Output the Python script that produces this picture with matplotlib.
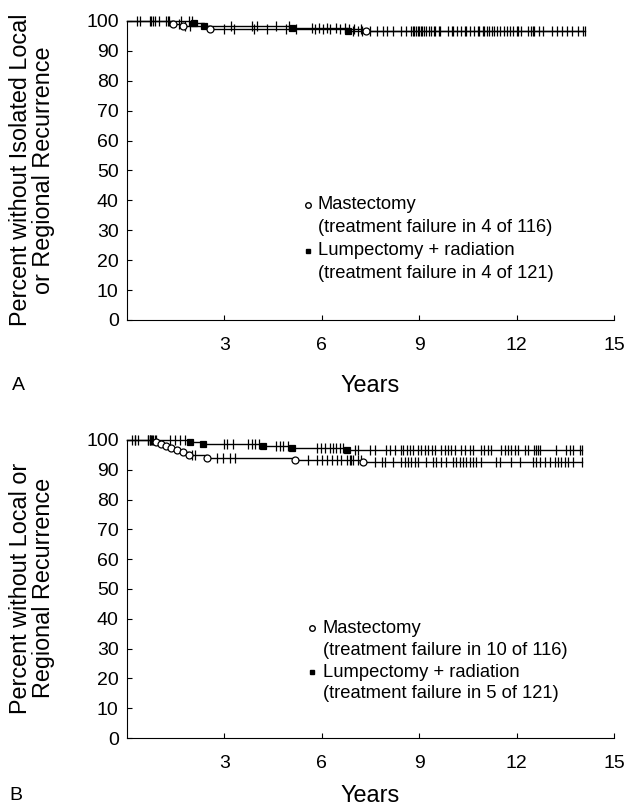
import matplotlib
matplotlib.use('Agg')
import matplotlib.pyplot as plt

plt.rcParams['font.family'] = ['Liberation Sans', 'DejaVu Sans']

# --- Panel A: isolated local or regional recurrence ---
A_MAST_EVENT_T = [1.41, 1.71, 2.55, 7.35]
A_MAST_EVENT_V = [99.1, 98.3, 97.4, 96.5]
A_LUMP_EVENT_T = [2.06, 2.37, 5.07, 6.80]
A_LUMP_EVENT_V = [99.2, 98.4, 97.5, 96.7]

A_MAST_CENSOR = [0.3, 0.75, 0.85, 1.0, 1.25, 1.6, 1.8, 1.95, 3.0, 3.3, 3.9, 4.3,
                 4.9, 5.2, 5.8, 6.05, 6.25, 6.55, 6.85, 7.0, 7.2, 7.5, 7.9, 8.2,
                 8.6, 8.75, 8.85, 8.95, 9.05, 9.15, 9.3, 9.45, 9.6, 9.9, 10.05,
                 10.3, 10.45, 10.7, 10.85, 11.0, 11.15, 11.3, 11.5, 11.7, 11.9,
                 12.05, 12.35, 12.5, 12.7, 13.1, 13.4, 13.7, 14.1]
A_LUMP_CENSOR = [0.4, 0.7, 0.8, 1.2, 1.3, 1.65, 1.9, 2.0, 3.2, 3.85, 4.0, 4.6,
                 5.0, 5.7, 5.9, 6.15, 6.45, 6.7, 6.95, 7.1, 7.25, 7.7, 8.0, 8.45,
                 8.8, 8.9, 9.0, 9.1, 9.2, 9.35, 9.5, 9.65, 10.0, 10.15, 10.4,
                 10.55, 10.8, 10.95, 11.1, 11.25, 11.4, 11.6, 11.8, 12.0, 12.15,
                 12.45, 12.55, 12.8, 13.25, 13.55, 13.9, 14.05]

# --- Panel B: local or regional recurrence ---
B_MAST_EVENT_T = [0.9, 1.05, 1.2, 1.37, 1.55, 1.73, 1.9, 2.46, 5.17, 7.26]
B_MAST_EVENT_V = [99.3, 98.6, 97.9, 97.2, 96.5, 95.8, 95.1, 94.0, 93.4, 92.7]
B_LUMP_EVENT_T = [1.94, 2.33, 4.20, 5.07, 6.79]
B_LUMP_EVENT_V = [99.2, 98.5, 98.0, 97.4, 96.8]

B_MAST_CENSOR = [0.14, 0.25, 0.65, 0.7, 0.75, 0.8, 2.0, 2.1, 2.76, 2.95, 3.17,
                 3.32, 5.57, 5.85, 6.0, 6.15, 6.3, 6.46, 6.6, 6.77, 6.86, 6.9,
                 6.95, 7.1, 7.2, 7.63, 7.84, 7.94, 8.2, 8.45, 8.55, 8.65, 8.76,
                 8.86, 8.96, 9.22, 9.42, 9.53, 9.68, 9.84, 10.04, 10.14, 10.25,
                 10.35, 10.45, 10.55, 10.65, 10.76, 10.91, 11.37, 11.48, 11.83,
                 12.09, 12.5, 12.6, 12.71, 12.86, 13.02, 13.17, 13.27, 13.37,
                 13.48, 13.58, 13.74, 14.02]
B_LUMP_CENSOR = [0.25, 0.35, 0.65, 0.72, 0.78, 0.85, 0.9, 1.32, 1.48, 1.63, 1.78,
                 3.0, 3.07, 3.27, 3.73, 3.84, 3.94, 4.07, 4.6, 4.7, 4.8, 4.95,
                 5.84, 5.99, 6.09, 6.25, 6.35, 6.45, 6.55, 6.66, 7.02, 7.12, 7.48,
                 7.63, 7.99, 8.09, 8.25, 8.45, 8.5, 8.61, 8.71, 8.81, 8.96, 9.07,
                 9.17, 9.27, 9.38, 9.48, 9.68, 9.78, 9.89, 9.99, 10.09, 10.3, 10.4,
                 10.55, 10.65, 10.91, 11.01, 11.11, 11.22, 11.53, 11.63, 11.73,
                 11.84, 11.94, 12.04, 12.25, 12.35, 12.55, 12.6, 12.65, 12.71,
                 13.22, 13.53, 13.63, 13.74, 13.94, 14.02]

X_TICKS = [3, 6, 9, 12, 15]
Y_TICKS = [0, 10, 20, 30, 40, 50, 60, 70, 80, 90, 100]

A_YLABEL = 'Percent without Isolated Local\nor Regional Recurrence'
B_YLABEL = 'Percent without Local or\nRegional Recurrence'
A_LEGEND = ['Mastectomy', '(treatment failure in 4 of 116)',
            'Lumpectomy + radiation', '(treatment failure in 4 of 121)']
B_LEGEND = ['Mastectomy', '(treatment failure in 10 of 116)',
            'Lumpectomy + radiation', '(treatment failure in 5 of 121)']

FS_TICK = 14
FS_LEG = 13.2
FS_LABEL = 16.8


def value_at(t, ev_t, ev_v):
    v = 100.0
    for et, ev in zip(ev_t, ev_v):
        if et <= t:
            v = ev
    return v


def draw_km(ax, ev_t, ev_v, censor, marker, face):
    t_end = max(censor)
    xs = [0.0] + list(ev_t) + [t_end]
    ys = [100.0] + list(ev_v) + [ev_v[-1]]
    ax.step(xs, ys, where='post', color='black', lw=1.0, clip_on=False, zorder=3)
    cy = [value_at(t, ev_t, ev_v) for t in censor]
    ax.plot(censor, cy, ls='none', marker='|', ms=7.5, mew=0.9, color='black',
            clip_on=False, zorder=4)
    ax.plot(ev_t, ev_v, ls='none', marker=marker, ms=5, mfc=face, mec='black',
            mew=0.9, clip_on=False, zorder=5)


def style_axes(ax):
    ax.set_xlim(0, 15)
    ax.set_ylim(0, 100)
    ax.spines['top'].set_visible(False)
    ax.spines['right'].set_visible(False)
    ax.spines['left'].set_linewidth(0.8)
    ax.spines['bottom'].set_linewidth(0.8)
    ax.set_xticks(X_TICKS)
    ax.set_yticks(Y_TICKS)
    ax.tick_params(axis='both', direction='in', length=3.5, width=0.8,
                   labelsize=FS_TICK)
    ax.tick_params(axis='x', pad=12)
    ax.tick_params(axis='y', pad=6)


def draw_legend(ax, lines, mx, tx, ys):
    ax.plot([mx], [ys[0]], marker='o', ms=4, mfc='white', mec='black', mew=1.0,
            transform=ax.transAxes, clip_on=False)
    ax.plot([mx], [ys[2]], marker='s', ms=3.5, mfc='black', mec='black',
            transform=ax.transAxes, clip_on=False)
    for txt, y in zip(lines, ys):
        ax.text(tx, y, txt, transform=ax.transAxes, fontsize=FS_LEG,
                ha='left', va='center')


fig = plt.figure(figsize=(6.33, 8.07), dpi=100)
axA = fig.add_axes([0.2006, 0.6035, 0.7694, 0.3705])
axB = fig.add_axes([0.2006, 0.0855, 0.7694, 0.3693])

for ax in (axA, axB):
    style_axes(ax)

draw_km(axA, A_LUMP_EVENT_T, A_LUMP_EVENT_V, A_LUMP_CENSOR, 's', 'black')
draw_km(axA, A_MAST_EVENT_T, A_MAST_EVENT_V, A_MAST_CENSOR, 'o', 'white')
draw_km(axB, B_LUMP_EVENT_T, B_LUMP_EVENT_V, B_LUMP_CENSOR, 's', 'black')
draw_km(axB, B_MAST_EVENT_T, B_MAST_EVENT_V, B_MAST_CENSOR, 'o', 'white')

draw_legend(axA, A_LEGEND, 0.372, 0.392, [0.385, 0.308, 0.231, 0.154])
draw_legend(axB, B_LEGEND, 0.379, 0.402, [0.369, 0.295, 0.221, 0.148])

# y labels, panel letters and x labels placed in figure pixels
W, H = 633, 807
fig.text(32 / W, 1 - 170 / H, A_YLABEL, rotation=90, ha='center', va='center',
         fontsize=FS_LABEL, linespacing=1.0)
fig.text(32 / W, 1 - 588 / H, B_YLABEL, rotation=90, ha='center', va='center',
         fontsize=FS_LABEL, linespacing=1.0)
fig.text(370 / W, 1 - 385 / H, 'Years', ha='center', va='center',
         fontsize=FS_LABEL)
fig.text(370 / W, 1 - 796 / H, 'Years', ha='center', va='center',
         fontsize=FS_LABEL)
fig.text(18 / W, 1 - 385 / H, 'A', ha='center', va='center', fontsize=FS_TICK)
fig.text(16 / W, 1 - 796 / H, 'B', ha='center', va='center', fontsize=FS_TICK)

fig.savefig('out.png', dpi=100)
